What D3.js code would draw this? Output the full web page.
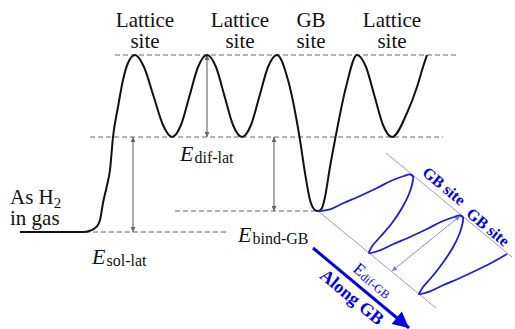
<!DOCTYPE html>
<html><head><meta charset="utf-8">
<script src="https://cdn.jsdelivr.net/npm/d3@7"></script>
<style>
html,body{margin:0;padding:0;background:#fff;font-family:"Liberation Serif","Times New Roman",Tinos,"DejaVu Serif",serif;}
svg{display:block;}
</style></head><body>
<svg id="chart" width="515" height="329"></svg>
<script>
// Energy levels (arbitrary units, H2 in gas = 0)
const levelNames = ["gas", "GB", "lattice", "saddle"];
const levelEnergy = [0, 0.21, 0.95, 1.77];
// extent of each dashed reference line along the reaction coordinate
const levelFrom = [6.5, 15.5, 7.0, 9.5];
const levelTo = [20.8, 29.8, 42.3, 43.7];

// Potential-energy profile through the bulk: reaction coordinate, energy
const bulkX = [0, 6.3, 7.0, 7.67, 8.0, 8.3, 8.67, 9.0, 9.3, 9.8, 10.3, 10.8, 11.5,
  12.4, 13.35, 14.3, 15.2, 16.1, 16.95, 17.8, 18.7, 19.6, 20.45, 21.3, 22.2, 23.1, 23.95, 24.8, 25.7,
  26.8, 28.0, 28.5, 29.0, 29.5, 29.8, 30.2, 30.5, 31.0, 31.5, 32.6, 33.7,
  34.6, 35.45, 36.3, 37.2, 38.7, 39.7, 40.3, 40.7];
const bulkE = [0, 0, 0.013, 0.053, 0.12, 0.29, 0.453, 0.62, 0.95, 1.25, 1.52, 1.69, 1.77,
  1.65, 1.36, 1.07, 0.95, 1.07, 1.36, 1.65, 1.77, 1.65, 1.36, 1.07, 0.95, 1.07, 1.36, 1.65, 1.77,
  1.52, 0.92, 0.59, 0.32, 0.22, 0.21, 0.24, 0.35, 0.65, 0.92, 1.45, 1.77,
  1.65, 1.36, 1.07, 0.95, 1.19, 1.45, 1.65, 1.77];

// Profile along the grain boundary, drawn in oblique projection
const gbX = [29.8, 31.0, 32.3, 34.0, 35.7, 37.3, 38.4, 39.0, 39.3, 39.25, 38.9, 38.2, 37.2, 36.1, 35.3, 35.0, 34.9, 36.0, 37.3, 39.0, 40.7, 42.3, 43.4, 44.0, 44.3, 44.25, 43.9, 43.2, 42.2, 41.1, 40.3, 40.0, 39.9, 41.0, 42.3, 44.0, 45.7, 47.3, 48.7];
const gbE = [0.21, 0.227, 0.287, 0.36, 0.44, 0.52, 0.56, 0.575, 0.555, 0.495, 0.38, 0.24, 0.09, -0.04, -0.13, -0.18, -0.21, -0.183, -0.123, -0.05, 0.03, 0.11, 0.15, 0.165, 0.145, 0.085, -0.03, -0.17, -0.32, -0.46, -0.55, -0.60, -0.62, -0.593, -0.533, -0.46, -0.38, -0.30, -0.22];

// Guide lines through GB sites (upper) and GB saddles (lower): [x0, E0, x1, E1]
const gbGuides = [[36.6, 0.79, 49.2, -0.25], [29.8, 0.21, 41.6, -0.76]];
// Direction arrow along the GB and the E_dif-GB arrow: [x0, E0, x1, E1]
const alongArrow = [29.3, -0.16, 38.9, -0.96];
const difGbArrow = [44.0, 0.16, 37.2, -0.39];

// Site labels above the profile
const siteTop = ["Lattice", "Lattice", "GB", "Lattice"];
const siteBottom = ["site", "site", "site", "site"];
const siteX = [12.5, 22.0, 29.1, 37.2];

// Energy differences marked with double arrows
const gapNames = ["sol-lat", "dif-lat", "bind-GB"];
const gapX = [11.3, 18.7, 25.4];
const gapFrom = [0, 0.95, 0.21];
const gapTo = [0.95, 1.77, 0.95];
const gapLabelX = [7.2, 16.0, 21.8];
const gapLabelE = [-0.32, 0.71, -0.10];

const FONT = '"Liberation Serif","Times New Roman",Tinos,"DejaVu Serif",serif';
const svg = d3.select("#chart").attr("font-family", FONT);
const x = d3.scaleLinear().domain([0, 50]).range([20, 520]);
const y = d3.scaleLinear().domain([0, 1.77]).range([232, 55]);

const defs = svg.append("defs");
function marker(id, color, w, h) {
  defs.append("marker").attr("id", id)
    .attr("viewBox", "0 0 10 10").attr("refX", 10).attr("refY", 5)
    .attr("markerUnits", "userSpaceOnUse")
    .attr("markerWidth", w).attr("markerHeight", h)
    .attr("orient", "auto-start-reverse")
    .append("path").attr("d", "M0,0L10,5L0,10z").attr("fill", color);
}
marker("ah-grey", "#666", 7, 5);
marker("ah-gb", "#7a7ad8", 7, 5);
marker("ah-blue", "#0000f0", 22, 16);

// dashed reference levels
svg.append("g").selectAll("line").data(levelNames).join("line")
  .attr("x1", (d, i) => x(levelFrom[i])).attr("x2", (d, i) => x(levelTo[i]))
  .attr("y1", (d, i) => y(levelEnergy[i])).attr("y2", (d, i) => y(levelEnergy[i]))
  .attr("stroke", "#666").attr("stroke-width", 1).attr("stroke-dasharray", "5,3");

// energy difference arrows
svg.append("g").selectAll("line").data(gapNames).join("line")
  .attr("x1", (d, i) => x(gapX[i])).attr("x2", (d, i) => x(gapX[i]))
  .attr("y1", (d, i) => y(gapFrom[i])).attr("y2", (d, i) => y(gapTo[i]))
  .attr("stroke", "#666").attr("stroke-width", 1.1)
  .attr("marker-start", "url(#ah-grey)").attr("marker-end", "url(#ah-grey)");

// bulk profile
const bulkLine = d3.line().x(d => x(d[0])).y(d => y(d[1])).curve(d3.curveMonotoneX);
svg.append("path").datum(d3.zip(bulkX, bulkE)).attr("d", bulkLine)
  .attr("fill", "none").attr("stroke", "#111").attr("stroke-width", 2);

// grain-boundary guides
svg.append("g").selectAll("line").data(gbGuides).join("line")
  .attr("x1", d => x(d[0])).attr("y1", d => y(d[1]))
  .attr("x2", d => x(d[2])).attr("y2", d => y(d[3]))
  .attr("stroke", "#8c8cec").attr("stroke-width", 0.9);

// E_dif-GB arrow
svg.append("line")
  .attr("x1", x(difGbArrow[0])).attr("y1", y(difGbArrow[1]))
  .attr("x2", x(difGbArrow[2])).attr("y2", y(difGbArrow[3]))
  .attr("stroke", "#7a7ad8").attr("stroke-width", 0.9)
  .attr("marker-start", "url(#ah-gb)").attr("marker-end", "url(#ah-gb)");

// profile along the grain boundary
const gbLine = d3.line().x(d => x(d[0])).y(d => y(d[1])).curve(d3.curveCatmullRom.alpha(0.5));
svg.append("path").datum(d3.zip(gbX, gbE)).attr("d", gbLine)
  .attr("fill", "none").attr("stroke", "#1c1cdc").attr("stroke-width", 1.8);

// "Along GB" direction arrow
svg.append("line")
  .attr("x1", x(alongArrow[0])).attr("y1", y(alongArrow[1]))
  .attr("x2", x(alongArrow[2])).attr("y2", y(alongArrow[3]))
  .attr("stroke", "#0000f0").attr("stroke-width", 3)
  .attr("marker-end", "url(#ah-blue)");

// site labels
const sites = svg.append("g").attr("font-size", 21).attr("text-anchor", "middle").attr("fill", "#111");
siteX.forEach((sx, i) => {
  sites.append("text").attr("x", x(sx)).attr("y", 27).text(siteTop[i]);
  sites.append("text").attr("x", x(sx)).attr("y", 48).text(siteBottom[i]);
});

// gas-phase label
const gas = svg.append("text").attr("x", 10).attr("y", 204).attr("font-size", 21).attr("fill", "#111");
gas.append("tspan").text("As H");
gas.append("tspan").attr("font-size", 15).attr("dy", 4).text("2");
svg.append("text").attr("x", 10).attr("y", 225).attr("font-size", 21).attr("fill", "#111").text("in gas");

// energy labels
gapNames.forEach((n, i) => {
  const t = svg.append("text").attr("x", x(gapLabelX[i])).attr("y", y(gapLabelE[i])).attr("fill", "#111");
  t.append("tspan").attr("font-size", 22).attr("font-style", "italic").text("E");
  t.append("tspan").attr("font-size", 16).attr("dy", 2).attr("dx", 1).text(n);
});

// rotated labels along the grain boundary
const angle = 39.5;
function gbText(ex, ee, size, weight) {
  return svg.append("text")
    .attr("transform", `translate(${x(ex)},${y(ee)}) rotate(${angle})`)
    .attr("text-anchor", "middle").attr("dominant-baseline", "central")
    .attr("font-size", size).attr("font-weight", weight).attr("fill", "#0000e6");
}
gbText(42.4, 0.46, 16, "bold").text("GB site");
gbText(46.8, 0.05, 16, "bold").text("GB site");
gbText(33.2, -0.65, 18, "bold").text("Along GB");
const eg = gbText(35.3, -0.48, 17, "normal");
eg.append("tspan").text("E");
eg.append("tspan").attr("font-size", 12).attr("dy", 3).text("dif-GB");
</script>
</body></html>
